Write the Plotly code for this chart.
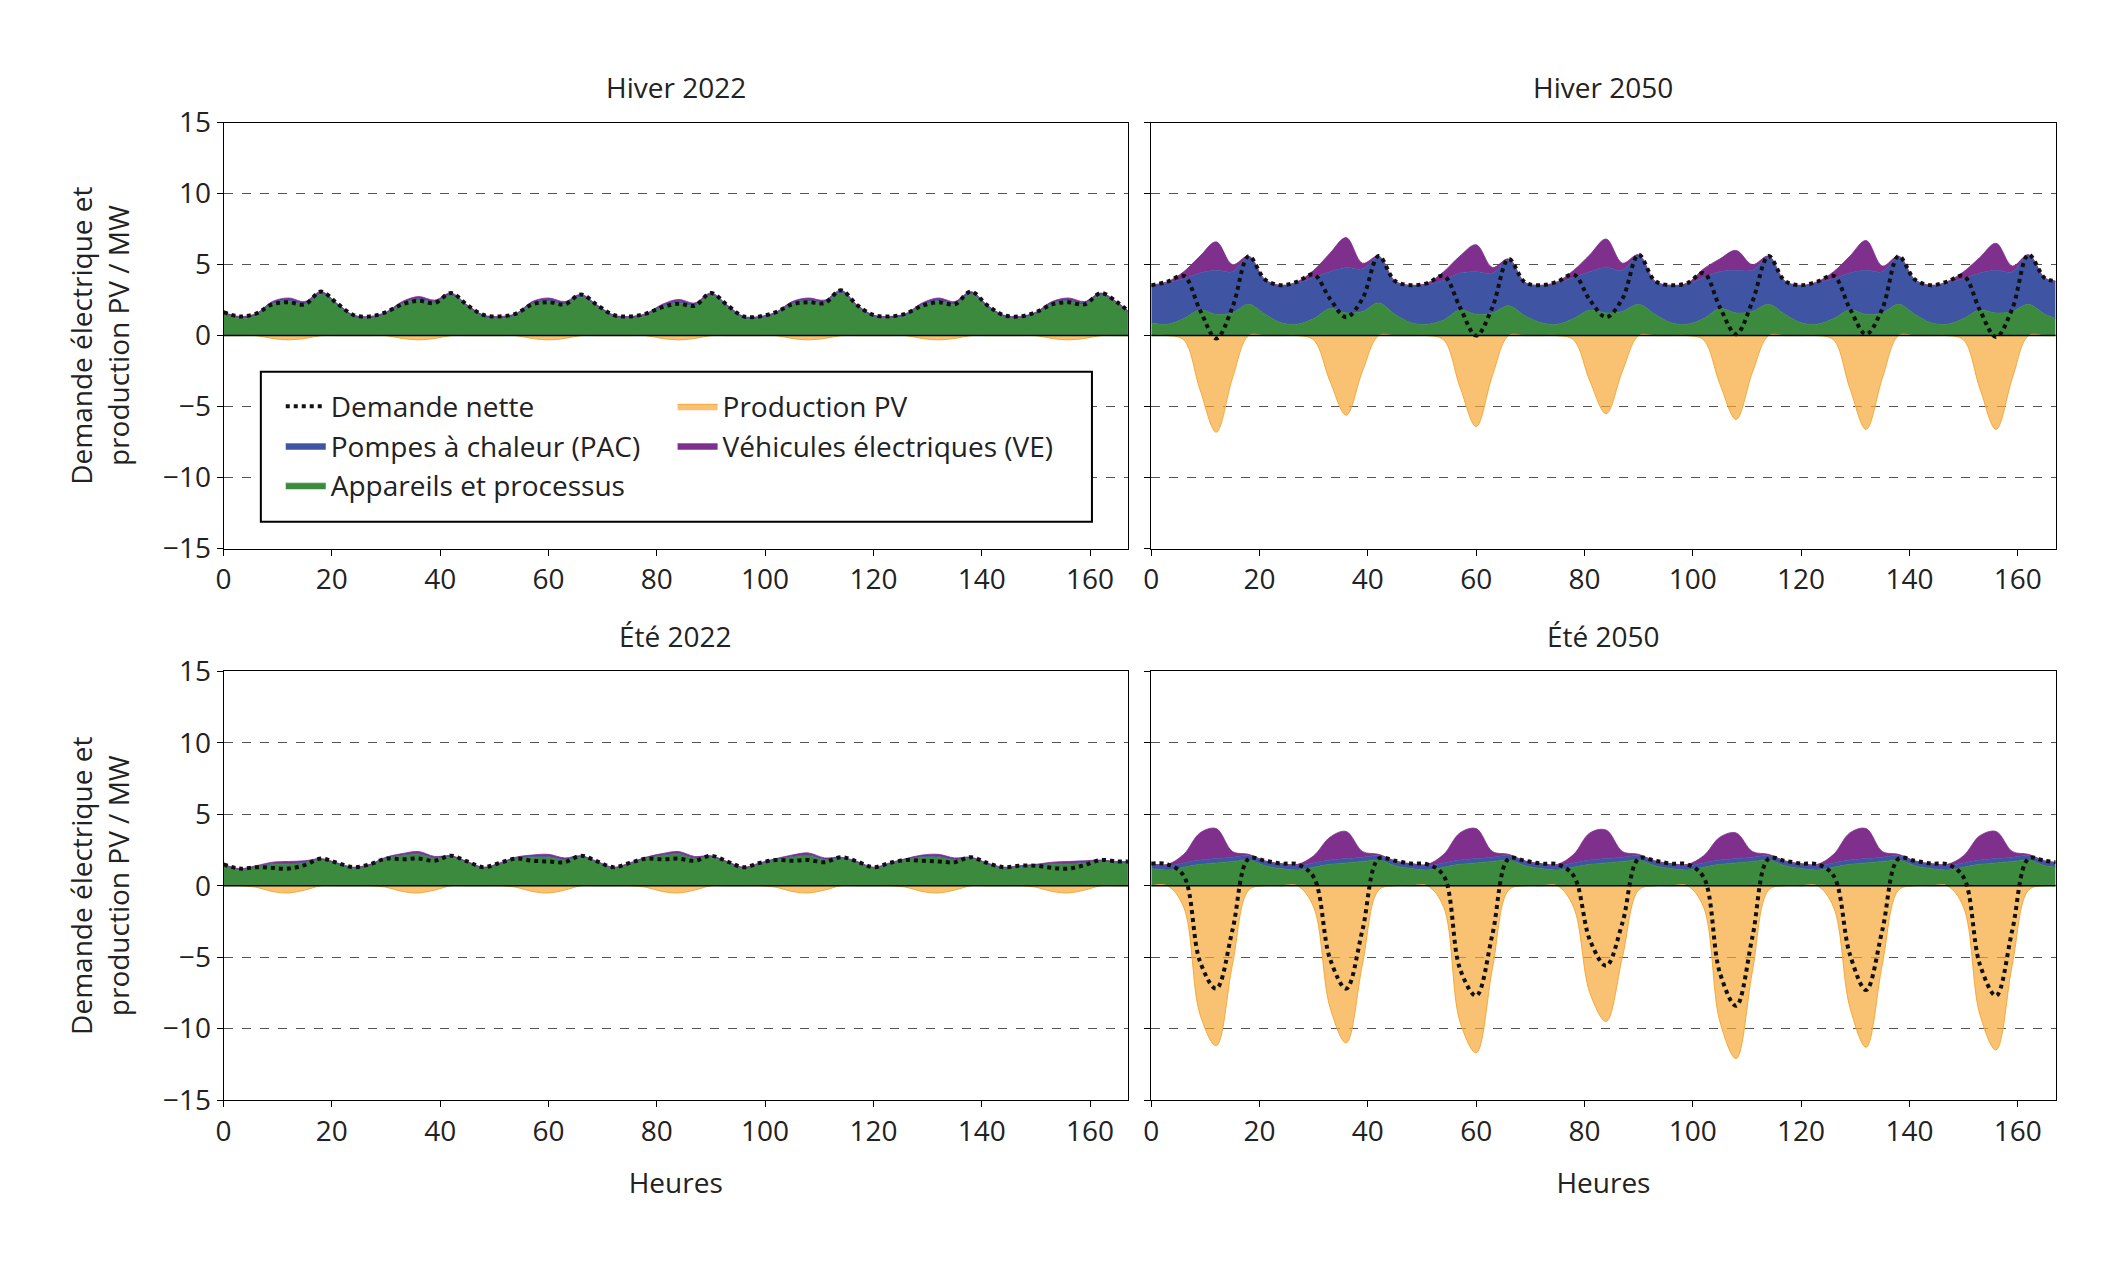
import plotly.graph_objects as go

hours = list(range(0, 168, 3)) + [167]

# Hiver 2022
w22_app = [1.5,1.2,1.4,2.2,2.4,2.2,2.9,2.1, 1.3,1.2,1.5,2.2,2.5,2.3,2.8,2.0, 1.3,1.2,1.4,2.2,2.4,2.2,2.7,2.0, 1.3,1.2,1.4,2.0,2.3,2.1,2.8,2.0,
           1.2,1.2,1.5,2.2,2.4,2.3,3.0,2.0, 1.3,1.2,1.4,2.1,2.4,2.2,2.9,2.0, 1.3,1.2,1.5,2.2,2.4,2.2,2.8,2.2, 1.6]
w22_pac = [0.1]*57
w22_ve = [0.05,0.05,0.05,0.1,0.15,0.1,0.1,0.05]*7 + [0.05]
w22_pv = [0,0,0,-0.2,-0.3,-0.2,0,0]*7 + [0]

# Hiver 2050
w50_app = [0.9,0.8,1.2,1.8,1.5,1.6,2.2,1.5, 0.9,0.8,1.2,1.9,1.6,1.7,2.3,1.5, 0.9,0.8,1.1,1.8,1.5,1.6,2.1,1.4,
           0.9,0.8,1.2,1.8,1.6,1.7,2.2,1.5, 0.9,0.8,1.2,1.9,1.6,1.7,2.2,1.5, 0.9,0.8,1.2,1.8,1.5,1.6,2.2,1.5, 0.9,0.8,1.2,1.8,1.6,1.7,2.2,1.5, 1.2]
w50_pac = [2.6,2.9,2.8,2.6,3.1,2.9,3.3,2.4, 2.6,2.9,2.9,2.6,3.2,3.0,3.2,2.3, 2.6,2.8,2.8,2.6,3.0,2.8,3.2,2.3,
           2.6,2.9,2.9,2.7,3.2,2.9,3.4,2.3, 2.6,2.8,2.9,2.6,3.0,2.9,3.3,2.3, 2.6,2.9,2.8,2.6,3.1,2.9,3.3,2.4, 2.6,2.9,2.8,2.6,3.0,2.8,3.4,2.5, 2.6]
w50_ve = [0.05,0.1,0.5,1.2,2.0,0.5,0.1,0.05, 0.05,0.1,0.5,1.3,2.1,0.4,0.1,0.05, 0.05,0.1,0.6,1.2,1.9,0.4,0.1,0.05,
          0.05,0.1,0.5,1.2,2.0,0.5,0.1,0.05, 0.05,0.1,0.6,0.9,1.4,0.4,0.1,0.05, 0.05,0.1,0.5,1.2,2.1,0.4,0.1,0.05, 0.05,0.1,0.5,1.1,1.9,0.4,0.1,0.05, 0.05]
w50_pv = [0,0,-0.3,-3.8,-6.8,-3.0,0,0, 0,0,-0.3,-3.2,-5.6,-2.5,0,0, 0,0,-0.3,-3.6,-6.4,-2.8,0,0,
          0,0,-0.3,-3.2,-5.5,-2.5,0,0, 0,0,-0.3,-3.4,-5.9,-2.6,0,0, 0,0,-0.3,-3.7,-6.6,-3.0,0,0, 0,0,-0.3,-3.7,-6.6,-3.0,0,0, 0]

# Été 2022
s22_app = [1.4,1.1,1.3,1.5,1.5,1.6,1.8,1.5, 1.2,1.4,1.9,2.1,2.2,1.9,2.0,1.6, 1.2,1.5,1.9,2.0,2.0,1.8,2.0,1.6,
           1.2,1.5,1.9,2.1,2.2,1.9,2.0,1.6, 1.2,1.5,1.8,2.0,2.1,1.8,1.9,1.6, 1.2,1.5,1.8,2.0,2.0,1.8,1.9,1.5, 1.2,1.3,1.4,1.5,1.5,1.6,1.7,1.6, 1.6]
s22_pac = [0.05]*57
s22_ve = [0.05,0.05,0.05,0.1,0.15,0.1,0.05,0.05]*7 + [0.05]
s22_pv = [0,0,-0.1,-0.4,-0.5,-0.3,0,0]*7 + [0]

# Été 2050
s50_app = [1.2,1.1,1.3,1.5,1.6,1.7,1.8,1.4]*7 + [1.3]
s50_pac = [0.3,0.3,0.3,0.3,0.3,0.3,0.3,0.3]*7 + [0.3]
s50_ve = [0.05,0.1,0.6,1.9,2.1,0.4,0.1,0.05, 0.05,0.1,0.5,1.6,1.9,0.4,0.1,0.05, 0.05,0.1,0.6,1.9,2.1,0.4,0.1,0.05,
          0.05,0.1,0.6,1.9,2.0,0.4,0.1,0.05, 0.05,0.1,0.5,1.6,1.8,0.4,0.1,0.05, 0.05,0.1,0.6,1.9,2.1,0.4,0.1,0.05, 0.05,0.1,0.5,1.7,1.9,0.4,0.1,0.05, 0.05]
s50_pv = [0,0,-1.5,-9.0,-11.2,-5.5,-0.3,0, 0,0,-1.5,-8.5,-11.0,-5.5,-0.3,0, 0,0,-1.5,-9.5,-11.7,-5.8,-0.3,0,
          0,0,-1.5,-7.5,-9.5,-5.0,-0.3,0, 0,0,-1.5,-9.5,-12.1,-6.0,-0.3,0, 0,0,-1.5,-8.5,-11.3,-5.5,-0.3,0, 0,0,-1.5,-9.0,-11.5,-5.5,-0.3,0, 0]

titles = ["Hiver 2022", "Hiver 2050", "Été 2022", "Été 2050"]
panels = [(w22_app, w22_pac, w22_ve, w22_pv), (w50_app, w50_pac, w50_ve, w50_pv),
          (s22_app, s22_pac, s22_ve, s22_pv), (s50_app, s50_pac, s50_ve, s50_pv)]

C_APP, C_PAC, C_VE, C_PV = "#3b8a3e", "#3f55a4", "#7f2f8c", "#f7a838"
FONT = "Open Sans"
TXT = "#222"

fig = go.Figure()
xd = [[0.098, 0.525], [0.536, 0.963]]
yd = [[0.576, 0.923], [0.127, 0.476]]

for i, (app, pac, ve, pv) in enumerate(panels):
    n = i + 1
    xa = "x" if n == 1 else f"x{n}"
    ya = "y" if n == 1 else f"y{n}"
    sg = f"s{n}"
    show = (n == 1)
    net = [a + b + c + d for a, b, c, d in zip(app, pac, ve, pv)]
    fig.add_trace(go.Scatter(x=hours, y=app, stackgroup=sg, line=dict(color=C_APP, width=0.8, shape="spline"),
                             fillcolor=C_APP, name="Appareils et processus", legend="legend", showlegend=show, xaxis=xa, yaxis=ya))
    fig.add_trace(go.Scatter(x=hours, y=pac, stackgroup=sg, line=dict(color=C_PAC, width=0.8, shape="spline"),
                             fillcolor=C_PAC, name="Pompes à chaleur (PAC)", legend="legend", showlegend=show, xaxis=xa, yaxis=ya))
    fig.add_trace(go.Scatter(x=hours, y=ve, stackgroup=sg, line=dict(color=C_VE, width=0.8, shape="spline"),
                             fillcolor=C_VE, name="Véhicules électriques (VE)", legend="legend2", showlegend=show, xaxis=xa, yaxis=ya))
    fig.add_trace(go.Scatter(x=hours, y=pv, fill="tozeroy", line=dict(color=C_PV, width=1, shape="spline"),
                             fillcolor="rgba(247,168,56,0.7)", name="Production PV", legend="legend2", showlegend=show, xaxis=xa, yaxis=ya))
    fig.add_trace(go.Scatter(x=[0, 167], y=[0, 0], mode="lines", line=dict(color="black", width=1.5),
                             showlegend=False, hoverinfo="skip", xaxis=xa, yaxis=ya))
    fig.add_trace(go.Scatter(x=hours, y=net, mode="lines", line=dict(color="#111", width=4, dash="dot", shape="spline"),
                             name="Demande nette", legend="legend", showlegend=show, xaxis=xa, yaxis=ya))
    r, c = divmod(i, 2)
    ax = dict(domain=xd[c], range=[0, 167], dtick=20, showline=True, mirror=True, linecolor="black", linewidth=1,
              ticks="outside", ticklen=6, tickcolor="black", showgrid=False, zeroline=False,
              tickfont=dict(size=28, family=FONT, color=TXT), anchor=ya)
    ay = dict(domain=yd[r], range=[-15, 15], dtick=5, showline=True, mirror=True, linecolor="black", linewidth=1,
              ticks="outside", ticklen=6, tickcolor="black", showgrid=True, gridcolor="#555", griddash="dash", gridwidth=1,
              zeroline=False, tickfont=dict(size=28, family=FONT, color=TXT), anchor=xa,
              showticklabels=(c == 0))
    if r == 1:
        ax["title"] = dict(text="Heures", font=dict(size=28, family=FONT, color=TXT), standoff=25)
    if c == 0:
        ay["title"] = dict(text="Demande électrique et<br>production PV / MW", font=dict(size=28, family=FONT, color=TXT), standoff=25)
    fig.layout["xaxis" if n == 1 else f"xaxis{n}"] = ax
    fig.layout["yaxis" if n == 1 else f"yaxis{n}"] = ay
    fig.add_annotation(text=titles[i], x=sum(xd[c]) / 2, y=yd[r][1] + 0.012, xref="paper", yref="paper",
                       xanchor="center", yanchor="bottom", showarrow=False, font=dict(size=28, family=FONT, color=TXT))

fig.add_shape(type="rect", xref="paper", yref="paper", x0=0.1156, x1=0.508, y0=0.598, y1=0.720,
              line=dict(color="black", width=2), fillcolor="white", layer="above")

legfont = dict(size=28, family=FONT, color=TXT)
fig.update_layout(
    width=2126, height=1266, paper_bgcolor="white", plot_bgcolor="white",
    margin=dict(l=0, r=0, t=0, b=0),
    font=dict(family=FONT),
    legend=dict(x=0.125, y=0.712, xanchor="left", yanchor="top", orientation="v", bgcolor="rgba(0,0,0,0)",
                font=legfont, tracegroupgap=0, itemwidth=40),
    legend2=dict(x=0.31, y=0.712, xanchor="left", yanchor="top", orientation="v", bgcolor="rgba(0,0,0,0)",
                 font=legfont, tracegroupgap=0, itemwidth=40),
)
fig.write_html("out.html")
